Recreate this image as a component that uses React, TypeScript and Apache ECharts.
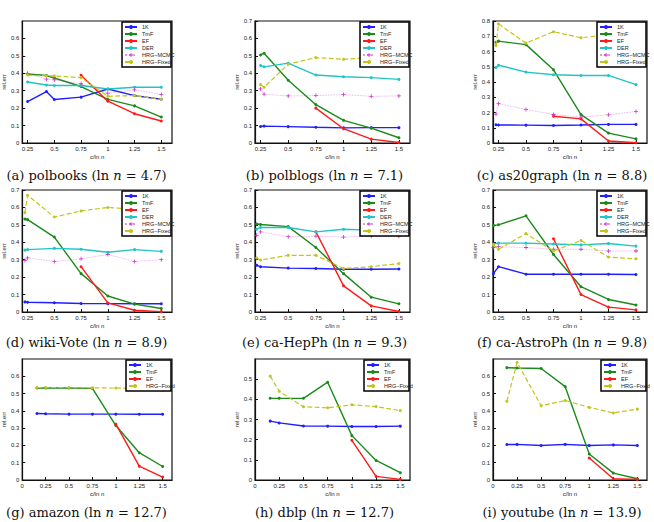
import React, { useEffect, useRef } from "react";
import * as echarts from "echarts";

// ---- data (x = c / ln n) ----
const X_A = [0.25, 0.426, 0.5, 0.75, 1, 1.25, 1.5];
const A_1K = [0.238, 0.295, 0.25, 0.263, 0.31, 0.272, 0.251];
const A_TMF = [0.396, 0.387, 0.373, 0.324, 0.25, 0.213, 0.149];
const A_EF = [null, null, null, 0.389, 0.24, 0.168, 0.126];
const A_DER = [0.35, 0.333, 0.33, 0.33, 0.31, 0.32, 0.32];
const A_MCMC = [0.4, 0.366, 0.362, 0.34, 0.286, 0.305, 0.278];
const A_FIX = [0.39, 0.385, 0.385, 0.375, 0.268, 0.272, 0.251];

const X_B = [0.25, 0.282, 0.5, 0.75, 1, 1.25, 1.5];
const B_1K = [0.095, 0.097, 0.094, 0.09, 0.087, 0.088, 0.088];
const B_TMF = [0.505, 0.515, 0.36, 0.22, 0.13, 0.085, 0.03];
const B_EF = [null, null, null, 0.2, 0.082, 0.022, 0.003];
const B_DER = [0.445, 0.437, 0.458, 0.39, 0.38, 0.375, 0.365];
const B_MCMC = [0.31, 0.28, 0.27, 0.272, 0.278, 0.268, 0.27];
const B_FIX = [0.335, 0.32, 0.452, 0.49, 0.48, 0.49, 0.5];

const X_C = [0.227, 0.25, 0.5, 0.75, 1, 1.25, 1.5];
const C_1K = [0.12, 0.118, 0.117, 0.115, 0.118, 0.122, 0.122];
const C_TMF = [0.66, 0.668, 0.645, 0.48, 0.186, 0.065, 0.027];
const C_EF = [null, null, null, 0.175, 0.158, 0.013, 0.002];
const C_DER = [0.495, 0.51, 0.465, 0.448, 0.443, 0.443, 0.383];
const C_MCMC = [0.19, 0.258, 0.22, 0.187, 0.17, 0.185, 0.207];
const C_FIX = [0.64, 0.78, 0.655, 0.73, 0.69, 0.71, 0.73];

const X_D = [0.225, 0.25, 0.5, 0.75, 1, 1.25, 1.5];
const D_1K = [0.058, 0.056, 0.053, 0.049, 0.048, 0.047, 0.047];
const D_TMF = [0.533, 0.53, 0.43, 0.22, 0.092, 0.045, 0.02];
const D_EF = [null, null, null, 0.26, 0.052, 0.01, 0.002];
const D_DER = [0.355, 0.358, 0.365, 0.36, 0.343, 0.358, 0.348];
const D_MCMC = [0.295, 0.31, 0.29, 0.305, 0.33, 0.29, 0.3];
const D_FIX = [0.57, 0.67, 0.545, 0.58, 0.6, 0.59, 0.6];

const X_E = [0.215, 0.25, 0.5, 0.75, 1, 1.25, 1.5];
const E_1K = [0.268, 0.26, 0.252, 0.25, 0.245, 0.245, 0.247];
const E_TMF = [0.505, 0.502, 0.49, 0.37, 0.22, 0.085, 0.047];
const E_EF = [null, null, null, 0.46, 0.15, 0.035, 0.003];
const E_DER = [0.475, 0.485, 0.485, 0.46, 0.475, 0.47, 0.47];
const E_MCMC = [0.44, 0.46, 0.432, 0.435, 0.43, 0.435, 0.435];
const E_FIX = [0.31, 0.298, 0.325, 0.325, 0.25, 0.26, 0.278];

const X_F = [0.204, 0.25, 0.5, 0.75, 1, 1.25, 1.5];
const F_1K = [0.22, 0.26, 0.217, 0.217, 0.217, 0.217, 0.215];
const F_TMF = [0.497, 0.5, 0.552, 0.33, 0.145, 0.072, 0.04];
const F_EF = [null, null, null, 0.42, 0.1, 0.028, 0.012];
const F_DER = [0.39, 0.395, 0.395, 0.39, 0.385, 0.393, 0.378];
const F_MCMC = [0.37, 0.375, 0.37, 0.36, 0.36, 0.35, 0.35];
const F_FIX = [0.385, 0.36, 0.45, 0.35, 0.41, 0.315, 0.305];

const X_G = [0.157, 0.25, 0.5, 0.75, 1, 1.25, 1.5];
const G_1K = [0.385, 0.383, 0.381, 0.381, 0.381, 0.38, 0.38];
const G_TMF = [0.532, 0.532, 0.532, 0.53, 0.315, 0.158, 0.078];
const G_EF = [null, null, null, null, 0.323, 0.08, 0.017];
const G_FIX = [0.535, 0.535, 0.535, 0.533, 0.532, 0.53, 0.52];

const X_H = [0.157, 0.25, 0.5, 0.75, 1, 1.25, 1.5];
const H_1K = [0.292, 0.283, 0.268, 0.267, 0.265, 0.265, 0.267];
const H_TMF = [0.405, 0.405, 0.405, 0.485, 0.22, 0.097, 0.036];
const H_EF = [null, null, null, null, 0.197, 0.018, 0.003];
const H_FIX = [0.515, 0.44, 0.363, 0.358, 0.373, 0.364, 0.344];

const X_I = [0.144, 0.25, 0.5, 0.75, 1, 1.25, 1.5];
const I_1K = [0.205, 0.206, 0.2, 0.206, 0.2, 0.203, 0.2];
const I_TMF = [0.65, 0.648, 0.645, 0.54, 0.15, 0.04, 0.007];
const I_EF = [null, null, null, null, 0.127, 0.007, 0.003];
const I_FIX = [0.455, 0.68, 0.43, 0.46, 0.42, 0.388, 0.41];

const X_TICKS_TOP = [0.25, 0.5, 0.75, 1, 1.25, 1.5];
const X_TICKS_BOTTOM = [0, 0.25, 0.5, 0.75, 1, 1.25, 1.5];

const NAMES = ["1K", "TmF", "EF", "DER", "HRG\u2212MCMC", "HRG\u2212Fixed"];

// ---- panel definitions ----
const PANELS = [
  { tag: "a", name: "polbooks", ln: "4.7", x: X_A, s: [A_1K, A_TMF, A_EF, A_DER, A_MCMC, A_FIX], ymax: 0.7, showMax: false, xmin: 0.2, ticks: X_TICKS_TOP },
  { tag: "b", name: "polblogs", ln: "7.1", x: X_B, s: [B_1K, B_TMF, B_EF, B_DER, B_MCMC, B_FIX], ymax: 0.7, showMax: true, xmin: 0.2, ticks: X_TICKS_TOP },
  { tag: "c", name: "as20graph", ln: "8.8", x: X_C, s: [C_1K, C_TMF, C_EF, C_DER, C_MCMC, C_FIX], ymax: 0.8, showMax: true, xmin: 0.2, ticks: X_TICKS_TOP },
  { tag: "d", name: "wiki-Vote", ln: "8.9", x: X_D, s: [D_1K, D_TMF, D_EF, D_DER, D_MCMC, D_FIX], ymax: 0.7, showMax: true, xmin: 0.2, ticks: X_TICKS_TOP },
  { tag: "e", name: "ca-HepPh", ln: "9.3", x: X_E, s: [E_1K, E_TMF, E_EF, E_DER, E_MCMC, E_FIX], ymax: 0.7, showMax: true, xmin: 0.2, ticks: X_TICKS_TOP },
  { tag: "f", name: "ca-AstroPh", ln: "9.8", x: X_F, s: [F_1K, F_TMF, F_EF, F_DER, F_MCMC, F_FIX], ymax: 0.7, showMax: true, xmin: 0.2, ticks: X_TICKS_TOP },
  { tag: "g", name: "amazon", ln: "12.7", x: X_G, s: [G_1K, G_TMF, G_EF, null, null, G_FIX], ymax: 0.7, showMax: false, xmin: 0, ticks: X_TICKS_BOTTOM },
  { tag: "h", name: "dblp", ln: "12.7", x: X_H, s: [H_1K, H_TMF, H_EF, null, null, H_FIX], ymax: 0.6, showMax: false, xmin: 0, ticks: X_TICKS_BOTTOM },
  { tag: "i", name: "youtube", ln: "13.9", x: X_I, s: [I_1K, I_TMF, I_EF, null, null, I_FIX], ymax: 0.7, showMax: false, xmin: 0, ticks: X_TICKS_BOTTOM },
];

// layout
const COL_LEFT = [17, 255, 493];
const COL_W = [155, 155, 154];
const ROW_TOP = [21, 190, 359];
const ROW_H = [122, 122, 121];
const CAP_Y = [175, 342, 512];

const COLORS = ["#1f1fff", "#1a8a1a", "#ff1a1a", "#22c4c4", "#cc33cc", "#c4c41a"];
const PLUS = "path://M4,0H6V4H10V6H6V10H4V6H0V4H4Z";

function buildOption() {
  const grid: any[] = [];
  const xAxis: any[] = [];
  const yAxis: any[] = [];
  const series: any[] = [];
  const legend: any[] = [];
  const elements: any[] = [];
  const boxGrids: any[] = [];
  const font = "Liberation Sans, Arial, sans-serif";

  PANELS.forEach((p, k) => {
    const r = Math.floor(k / 3);
    const c = k % 3;
    const left = COL_LEFT[c];
    const top = ROW_TOP[r];
    const w = COL_W[c];
    const h = ROW_H[r];
    grid.push({ left, top, width: w, height: h, show: true, borderColor: "#111", borderWidth: 1.2, backgroundColor: "#fff", z: 0 });
    xAxis.push({
      type: "value",
      gridIndex: k,
      min: p.xmin,
      max: 1.6,
      name: "c/ln n",
      nameLocation: "middle",
      nameGap: 11,
      nameTextStyle: { fontSize: 6, fontFamily: font, color: "#222" },
      axisLine: { show: true, lineStyle: { color: "#111", width: 1.2 } },
      axisTick: { show: true, inside: true, length: 3, customValues: p.ticks, lineStyle: { color: "#111" } },
      axisLabel: { customValues: p.ticks, fontSize: 6, margin: 3, color: "#222", fontFamily: font, formatter: (v: number) => String(v) },
      splitLine: { show: false },
    });
    yAxis.push({
      type: "value",
      gridIndex: k,
      min: 0,
      max: p.ymax,
      interval: 0.1,
      name: "rel.err",
      nameLocation: "middle",
      nameGap: 13,
      nameTextStyle: { fontSize: 6, fontFamily: font, color: "#222" },
      axisLine: { show: true, lineStyle: { color: "#111", width: 1.2 } },
      axisTick: { show: true, inside: true, length: 3, lineStyle: { color: "#111" } },
      axisLabel: {
        fontSize: 6,
        margin: 3,
        color: "#222",
        fontFamily: font,
        showMaxLabel: p.showMax,
        formatter: (v: number) => (v === 0 ? "0" : v.toFixed(1)),
      },
      splitLine: { show: false },
    });
    const names: string[] = [];
    p.s.forEach((vals, j) => {
      if (!vals) return;
      names.push(NAMES[j]);
      const data: any[] = [];
      vals.forEach((v, i) => {
        if (v !== null) data.push([p.x[i], v]);
      });
      const isMcmc = j === 4;
      const isFix = j === 5;
      series.push({
        type: "line",
        name: NAMES[j],
        xAxisIndex: k,
        yAxisIndex: k,
        data,
        color: COLORS[j],
        symbol: isMcmc ? PLUS : "circle",
        symbolSize: isMcmc ? 4 : 3,
        showSymbol: true,
        lineStyle: {
          color: COLORS[j],
          width: isMcmc ? 0.8 : isFix ? 1.2 : 1.4,
          type: isMcmc ? "dotted" : isFix ? "dashed" : "solid",
          opacity: isMcmc ? 0.5 : 1,
        },
        itemStyle: { color: COLORS[j] },
        z: 2 + j,
      });
    });
    // legend frame drawn as an extra (axis-less) grid
    const six = names.length === 6;
    const lh = names.length * 6 + (names.length - 1) * 1 + 4;
    const lw = six ? 49 : 45;
    const x0 = left + w - lw - 1;
    const y0 = top + 1;
    boxGrids.push({ left: x0, top: y0, width: lw, height: lh, show: true, backgroundColor: "#fff", borderColor: "#000", borderWidth: 1.5, z: 40 });
    legend.push({
      data: names,
      orient: "vertical",
      left: x0 + 2,
      top: top + 3,
      padding: 0,
      itemGap: 1,
      itemWidth: 12,
      itemHeight: 5,
      itemSymbolSize: 3,
      itemTextGap: 2,
      selectedMode: false,
      textStyle: { fontSize: 5.5, lineHeight: 6, fontFamily: font, color: "#222" },
      z: 60,
    });
    elements.push({
      type: "text",
      id: "cap" + k,
      x: left + w / 2 - 8,
      y: CAP_Y[r],
      z: 30,
      style: {
        text: `(${p.tag}) ${p.name} (ln {i|n} = ${p.ln})`,
        font: "13px 'DejaVu Serif', serif",
        fill: "#111",
        align: "center",
        verticalAlign: "middle",
        rich: { i: { fontStyle: "italic", fontSize: 13, fontFamily: "DejaVu Serif" } },
      },
    });
  });

  boxGrids.forEach((g, i) => {
    grid.push(g);
    const gi = PANELS.length + i;
    xAxis.push({ type: "value", gridIndex: gi, show: false, min: 0, max: 1, splitLine: { show: false } });
    yAxis.push({ type: "value", gridIndex: gi, show: false, min: 0, max: 1, splitLine: { show: false } });
  });

  return {
    animation: false,
    backgroundColor: "#fff",
    grid,
    xAxis,
    yAxis,
    series,
    legend,
    graphic: { elements },
  };
}

export default function App() {
  const ref = useRef<HTMLDivElement>(null);
  useEffect(() => {
    if (!ref.current) return;
    const chart = echarts.init(ref.current, undefined, { renderer: "svg" });
    chart.setOption(buildOption() as any);
    return () => chart.dispose();
  }, []);
  return <div ref={ref} style={{ position: "absolute", left: 0, top: 0, width: 654, height: 522, background: "#fff" }} />;
}
